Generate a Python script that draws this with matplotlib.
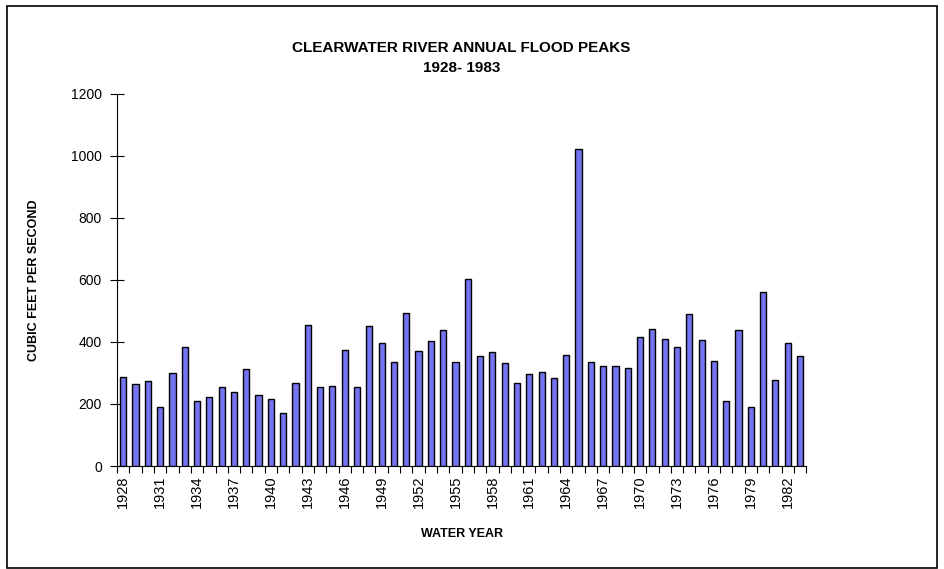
import numpy as np
import matplotlib
matplotlib.use('Agg')
import matplotlib.pyplot as plt
from matplotlib.patches import Rectangle

plt.rcParams['font.family'] = ['Liberation Sans', 'DejaVu Sans']

years = list(range(1928, 1984))
peaks = [288, 265, 275, 191, 300, 383, 211, 222, 254, 239,
         313, 228, 216, 170, 267, 455, 256, 259, 373, 256,
         450, 396, 336, 492, 370, 404, 440, 335, 604, 355,
         367, 333, 268, 296, 302, 285, 357, 1022, 334, 321,
         321, 316, 415, 442, 411, 385, 491, 406, 339, 209,
         438, 191, 562, 276, 396, 356]
yticks = [0, 200, 400, 600, 800, 1000, 1200]

bar_color = '#7373f0'

fig = plt.figure(figsize=(9.44, 5.69), dpi=100)
ax = fig.add_axes([0.124, 0.181, 0.730, 0.654])

x = np.arange(len(years))
ax.bar(x, peaks, width=0.5, color=bar_color, edgecolor='black', linewidth=1.0, zorder=3)

ax.set_xlim(-0.5, len(years) - 0.5)
ax.set_ylim(0, 1200)
ax.set_yticks(yticks)
ax.set_yticklabels([str(v) for v in yticks], fontsize=10)

# category boundary ticks, labels every third year
ax.set_xticks(np.arange(len(years) + 1) - 0.5)
ax.set_xticklabels([])
ax.set_xticks(x[::3], minor=True)
ax.set_xticklabels([str(y) for y in years[::3]], minor=True, rotation=90, fontsize=10.5)
ax.tick_params(axis='x', which='major', direction='out', length=5, width=0.8)
ax.tick_params(axis='x', which='minor', length=0, pad=7)
ax.tick_params(axis='y', direction='inout', length=10, width=0.8, pad=6)

for s in ['top', 'right']:
    ax.spines[s].set_visible(False)
for s in ['left', 'bottom']:
    ax.spines[s].set_linewidth(0.8)

ax.set_ylabel('CUBIC FEET PER SECOND', fontsize=9, fontweight='bold', labelpad=22)
ax.set_xlabel('WATER YEAR', fontsize=9, fontweight='bold', labelpad=14)

fig.text(0.489, 0.915, 'CLEARWATER RIVER ANNUAL FLOOD PEAKS', ha='center', va='center',
         fontsize=11, fontweight='bold')
fig.text(0.489, 0.880, '1928- 1983', ha='center', va='center',
         fontsize=11, fontweight='bold')

# outer chart border
fig.patches.append(Rectangle((6.5 / 944, 1 / 569), 930 / 944, 562 / 569, transform=fig.transFigure,
                             fill=False, edgecolor='black', linewidth=1.2))

fig.savefig('out.png', dpi=100)
